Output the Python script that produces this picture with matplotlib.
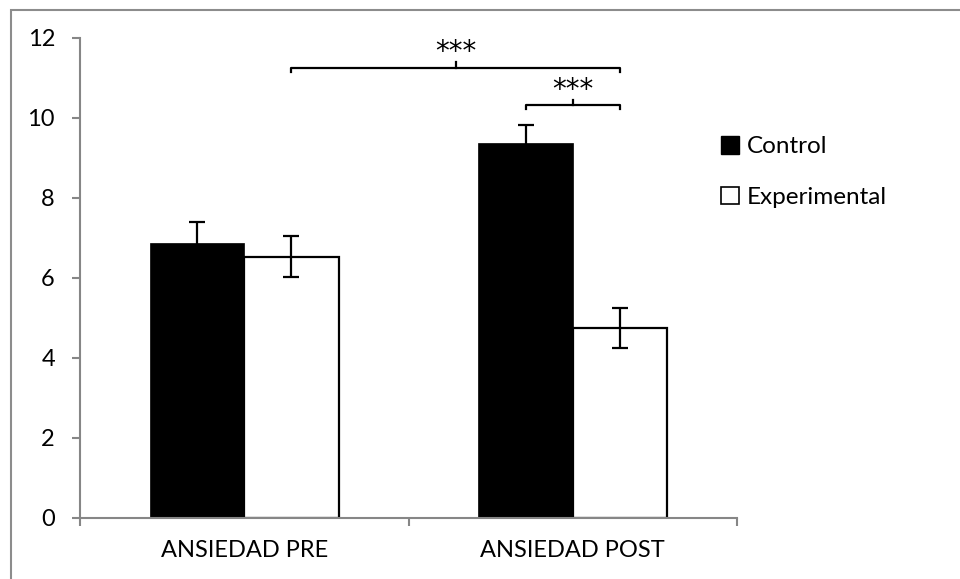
import numpy as np
import matplotlib.pyplot as plt
from matplotlib.patches import Patch, Rectangle

plt.rcParams['font.family'] = ['Lato', 'DejaVu Sans']

categorias = ['ANSIEDAD PRE', 'ANSIEDAD POST']
control = [6.88, 9.37]
control_err = [0.52, 0.46]
experimental = [6.53, 4.76]
experimental_err = [0.51, 0.50]

gris = '#868686'
fs = 17

fig = plt.figure(figsize=(9.6, 5.79), dpi=100)
ax = fig.add_axes([80/960, 61/579, 657/960, 480/579])

# marco del gráfico
fig.patches.append(Rectangle((11/960, -0.1), 1.2, 1.1 - 10/579, transform=fig.transFigure,
                             fill=False, edgecolor='#8c8c8c', linewidth=1.5))

x = np.arange(len(categorias))
w = 0.287
ekw = dict(ecolor='black', elinewidth=1.6, capthick=1.6, capsize=6)
ax.bar(x - w/2, control, w, color='black', edgecolor='black', linewidth=0.5,
       yerr=control_err, error_kw=ekw, label='Control', zorder=2)
ax.bar(x + w/2, experimental, w, color='white', edgecolor='black', linewidth=1.6,
       yerr=experimental_err, error_kw=ekw, label='Experimental', zorder=2)

ax.set_xlim(-0.5, 1.5)
ax.set_ylim(0, 12)
ax.set_yticks(np.arange(0, 13, 2))
ax.set_xticks(x)
ax.set_xticklabels(categorias)
ax.set_xticks([-0.5, 0.5, 1.5], minor=True)

for s in ['top', 'right']:
    ax.spines[s].set_visible(False)
for s in ['left', 'bottom']:
    ax.spines[s].set_color(gris)
    ax.spines[s].set_linewidth(1.5)
ax.tick_params(axis='y', direction='out', length=6, width=1.5, color=gris,
               labelsize=fs, pad=12)
ax.tick_params(axis='x', which='major', length=0, labelsize=fs, pad=16)
ax.tick_params(axis='x', which='minor', direction='out', length=6, width=1.5, color=gris)


def corchete(x0, x1, y, texto, h=0.11, t=0.13):
    xs = [x0, x0, x1, x1]
    ys = [y - h, y, y, y - h]
    ax.plot(xs, ys, color='black', lw=1.6, clip_on=False, zorder=3,
            solid_joinstyle='round')
    xm = (x0 + x1) / 2
    ax.plot([xm, xm], [y, y + t], color='black', lw=1.6, clip_on=False, zorder=3)
    ax.text(xm, y + 0.18, texto, ha='center', va='baseline', fontsize=20,
            family='DejaVu Sans', clip_on=False)


corchete(x[0] + w/2, x[1] + w/2, 11.26, '***')
corchete(x[1] - w/2, x[1] + w/2, 10.33, '***')

handles = [Patch(facecolor='black', edgecolor='black'),
           Patch(facecolor='white', edgecolor='black', linewidth=1.2)]
fig.legend(handles, ['Control', 'Experimental'], loc='upper left',
           bbox_to_anchor=(721/960, 1 - 136/579), frameon=False, fontsize=17.5,
           handlelength=0.75, handleheight=0.75, handletextpad=0.3,
           labelspacing=1.2, borderpad=0, borderaxespad=0)

fig.savefig('out.png', dpi=100)
